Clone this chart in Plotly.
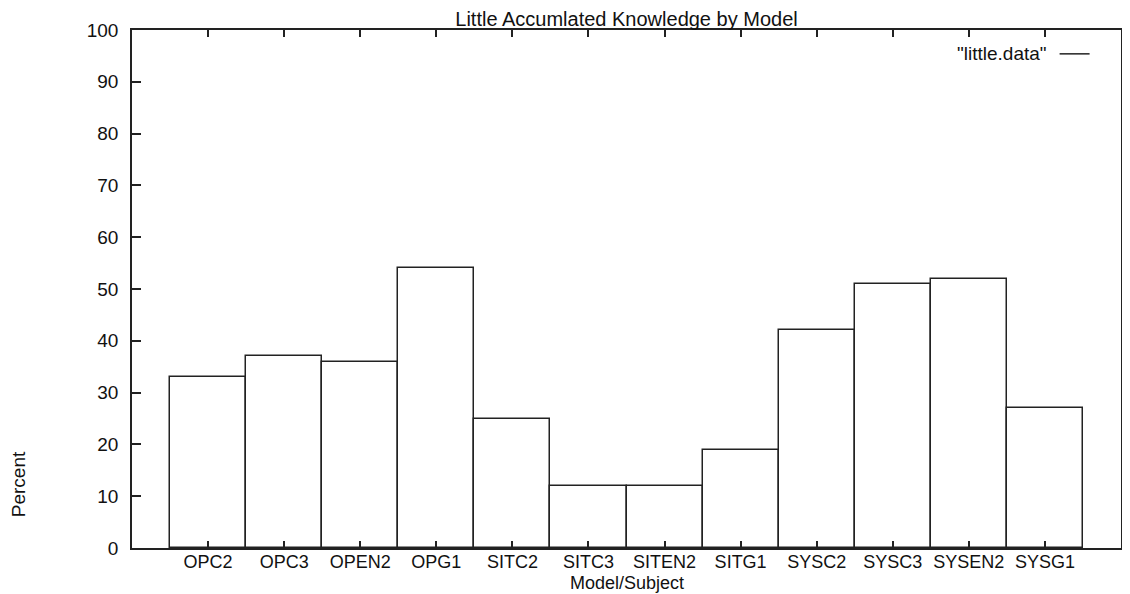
import plotly.graph_objects as go

categories = ["OPC2", "OPC3", "OPEN2", "OPG1", "SITC2", "SITC3", "SITEN2",
              "SITG1", "SYSC2", "SYSC3", "SYSEN2", "SYSG1"]
percent = [33, 37, 36, 54, 25, 12, 12, 19, 42, 51, 52, 27]
y_ticks = [0, 10, 20, 30, 40, 50, 60, 70, 80, 90, 100]

FONT = "Liberation Sans, Arial, Helvetica, sans-serif"
positions = list(range(len(categories)))

# the page body adds an 8px offset, so the figure is sized/margined to compensate
W, H = 1122, 586
ML, MR, MT, MB = 124, 7, 22, 46
PW, PH = W - ML - MR, H - MT - MB

fig = go.Figure()
fig.add_trace(go.Bar(
    x=positions, y=percent, width=1,
    marker=dict(color="white", line=dict(color="#222222", width=1.5)),
    showlegend=False,
))
# legend sample (gnuplot-style line key)
fig.add_trace(go.Scatter(
    x=[None], y=[None], mode="lines", name="",
    line=dict(color="#222222", width=1.5), showlegend=True,
))

fig.update_layout(
    width=W, height=H,
    margin=dict(l=ML, r=MR, t=MT, b=MB),
    paper_bgcolor="white", plot_bgcolor="white",
    font=dict(family=FONT, color="#111111", size=18),
    title=dict(text="Little Accumlated Knowledge by Model",
               x=0.5, xref="paper", xanchor="center",
               y=1 - 11 / H, yref="container", yanchor="middle",
               font=dict(size=20, family=FONT, color="#111111")),
    legend=dict(
        title=dict(text='"little.data"', side="left",
                   font=dict(size=19, family=FONT, color="#111111")),
        x=(1102 - 8 - ML) / PW, xanchor="right",
        y=(548 - 54) / PH, yanchor="middle",
        bgcolor="rgba(0,0,0,0)", borderwidth=0,
        font=dict(size=19, family=FONT),
    ),
    bargap=0,
)
fig.update_xaxes(
    range=[-1, 12], tickmode="array", tickvals=positions, ticktext=categories,
    ticks="inside", ticklen=7, tickwidth=1.5, tickcolor="#222222",
    showline=True, linecolor="#222222", linewidth=1.5, mirror="ticks",
    showgrid=False, zeroline=False,
    tickfont=dict(size=18, family=FONT, color="#111111"),
    ticklabelstandoff=-3,
)
fig.update_yaxes(
    range=[0, 100], tickmode="array", tickvals=y_ticks,
    ticks="inside", ticklen=9, tickwidth=1.5, tickcolor="#222222",
    showline=True, linecolor="#222222", linewidth=1.5, mirror=True,
    showgrid=False, zeroline=False,
    tickfont=dict(size=19, family=FONT, color="#111111"),
    ticklabelstandoff=8,
)
fig.add_annotation(
    text="Model/Subject", showarrow=False,
    xref="paper", yref="paper", x=0.5, y=-35 / PH,
    xanchor="center", yanchor="middle",
    font=dict(size=18, family=FONT, color="#111111"),
)
fig.add_annotation(
    text="Percent", textangle=-90, showarrow=False,
    xref="paper", yref="paper", x=-(ML - 10) / PW, y=(548 - 484) / 518,
    xanchor="center", yanchor="middle",
    font=dict(size=19, family="Liberation Sans Narrow, Liberation Sans, Arial Narrow, sans-serif",
              color="#111111"),
)

fig.write_html("out.html")
